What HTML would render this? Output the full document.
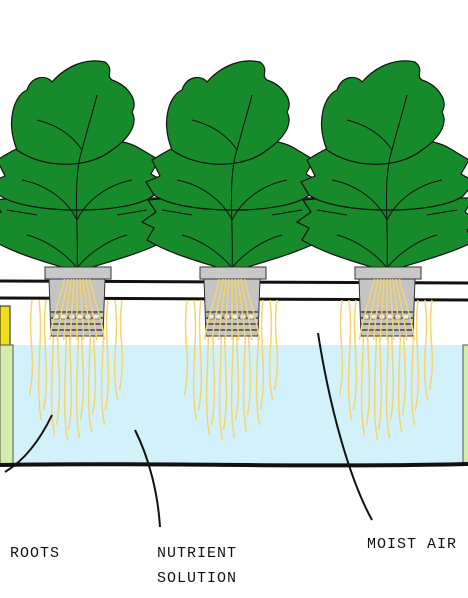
<!DOCTYPE html>
<html><head><meta charset="utf-8"><style>
html,body{margin:0;padding:0;background:#fff;}
svg{display:block}
text{font-family:"Liberation Mono",monospace;font-size:15px;fill:#111;letter-spacing:1px}
</style></head><body>
<svg id="s" width="468" height="598" viewBox="0 0 468 598">
<rect width="468" height="598" fill="#fff"/>
<rect x="0" y="345" width="468" height="120" fill="#d3f1fb"/>
<rect x="0" y="306" width="10" height="40" fill="#f2e01a" stroke="#222"/>
<rect x="0" y="345" width="13" height="120" fill="#d3ecaa" stroke="#555"/>
<rect x="463" y="345" width="6" height="120" fill="#d3ecaa" stroke="#555"/>
<line x1="0" y1="281" x2="468" y2="283" stroke="#111" stroke-width="3"/>
<line x1="0" y1="298" x2="468" y2="300" stroke="#111" stroke-width="3"/>
<path d="M0,465 C150,462 300,468 468,464" stroke="#111" stroke-width="4" fill="none"/>
<g id="plants"></g>
<path d="M52,415 C40,440 25,460 5,472" stroke="#111" stroke-width="2" fill="none"/>
<path d="M135,430 C150,460 158,495 160,527" stroke="#111" stroke-width="2" fill="none"/>
<path d="M318,333 C330,410 350,480 372,520" stroke="#111" stroke-width="2" fill="none"/>
<text x="10" y="557">ROOTS</text>
<text x="157" y="557">NUTRIENT</text>
<text x="157" y="582">SOLUTION</text>
<text x="367" y="548">MOIST AIR</text>
</svg>
<script>
const centers=[77,232,387];
const rootOff=[-45,-38,-31,-25,-18,-12,-6,0,6,12,18,25,31,38,45];
const rootLen=[95,120,110,135,125,140,130,138,120,132,115,125,110,100,90];
const NS="http://www.w3.org/2000/svg";
const g=document.getElementById('plants');
function el(t,a,p){const e=document.createElementNS(NS,t);for(const k in a)e.setAttribute(k,a[k]);(p||g).appendChild(e);return e;}
centers.forEach((c,i)=>{
  const pg=el('g',{transform:'translate('+c+',0)'});
  
  
  const G='#178a2c';
  const lw={fill:G,stroke:'#111','stroke-width':1.2};
  el('path',Object.assign({d:'M-85,240 L-78,228 L-90,222 L-76,212 L-84,200 L-62,198 C-40,188 -10,190 0,200 C15,188 50,190 65,198 L86,198 L78,212 L92,222 L80,230 L86,242 C60,255 30,262 0,272 C-30,262 -60,255 -85,240 Z'},lw),pg);
  el('path',Object.assign({d:'M-78,195 L-86,182 L-72,176 L-80,160 C-60,148 -40,135 -20,142 C-10,140 -2,145 0,150 C15,138 45,138 62,148 L82,160 L74,174 L88,182 L76,196 C50,215 -50,215 -78,195 Z'},lw),pg);
  el('path',Object.assign({d:'M-60,150 C-72,120 -62,95 -50,90 C-45,75 -30,75 -25,82 C-10,65 10,58 28,62 C38,70 28,75 35,80 C50,85 62,100 55,112 C62,125 50,140 35,150 C10,170 -35,168 -60,150 Z'},lw),pg);
  el('path',{d:'M0,270 C2,230 -5,180 5,150 M-50,235 C-30,240 -10,255 0,268 M50,235 C30,240 10,255 0,268 M-55,180 C-30,185 -10,200 0,220 M55,180 C30,185 10,200 0,220 M-40,120 C-20,125 -5,135 5,150 M20,95 C15,115 10,130 5,150 M-70,210 L-40,215 M70,210 L40,215',stroke:'#111','stroke-width':1,fill:'none'},pg);
  rootOff.forEach((o,j)=>{
    const y0=300, y1=y0+rootLen[j], w=(j%2?5:-5);
    el('path',{d:'M'+o+','+y0+' C'+(o+w)+','+(y0+40)+' '+(o-w)+','+(y1-40)+' '+(o+w/2)+','+y1,stroke:'#f5d56b','stroke-width':1.5,fill:'none'},pg);
  });
  const pot=el('g',{},pg);
  
  
  el('rect',{x:-32,y:267,width:66,height:12,fill:'#c8c8c8',stroke:'#333'},pot);
  el('path',{d:'M-28,279 L28,279 L26,336 L-26,336 Z',fill:'#c4c4c4',stroke:'#333'},pot);
  for(let k=0;k<4;k++)el('line',{x1:-26,y1:312+k*6,x2:26,y2:312+k*6,stroke:'#444','stroke-width':1.5},pot);
  for(let k=0;k<6;k++)el('rect',{x:-24+k*8,y:314,width:6,height:5,fill:'#eee',stroke:'#555','stroke-width':0.6},pot);
  rootOff.slice(3,12).forEach((o,j)=>{
    el('path',{d:'M'+(o*0.5)+',279 C'+(o*0.7)+',300 '+o+',320 '+(o*1.1)+',340',stroke:'#f5d56b','stroke-width':1.5,fill:'none'},pg);
  });
});
</script>
</body></html>
